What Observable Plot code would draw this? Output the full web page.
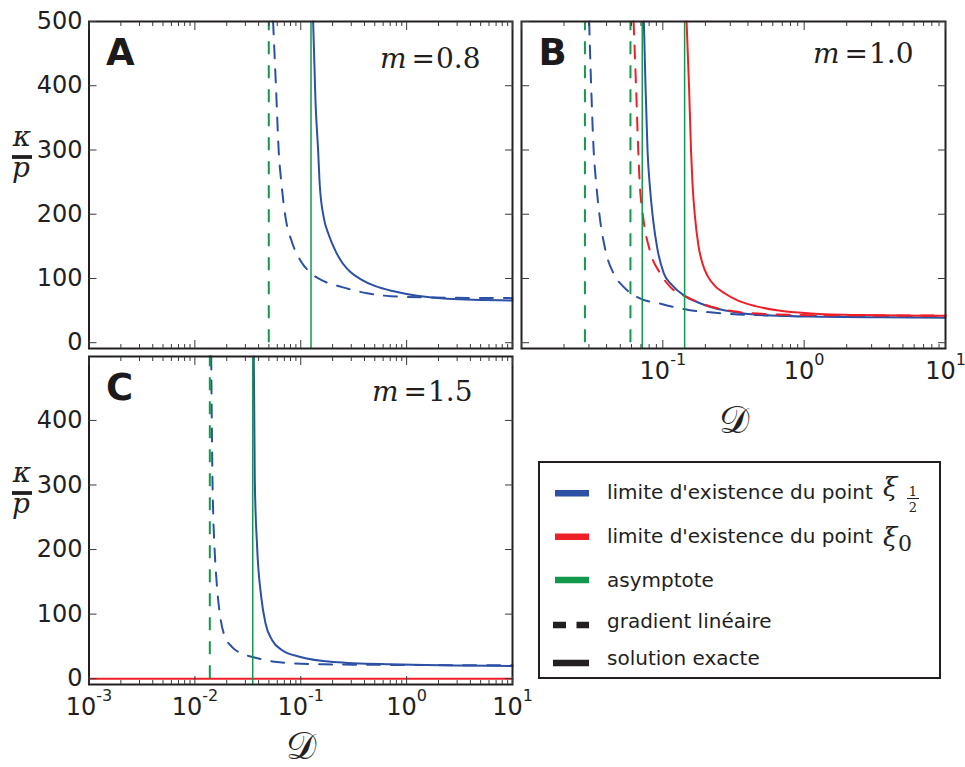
<!DOCTYPE html>
<html><head><meta charset="utf-8">
<script src="https://cdn.jsdelivr.net/npm/d3@7"></script>
<script src="https://cdn.jsdelivr.net/npm/@observablehq/plot@0.6"></script>
<style>
html,body{margin:0;padding:0;background:#fff;}
#chart{position:relative;width:965px;height:767px;overflow:hidden;font-family:"DejaVu Sans",sans-serif;}
</style></head>
<body><div id="chart"></div>
<script>
// ---------------- DATA ----------------
const xMajorAC = [0.001, 0.01, 0.1, 1, 10];
const xMajorB = [0.01, 0.1, 1, 10];
const xLabelsB = [0.1, 1, 10];
const xLabelsC = [0.001, 0.01, 0.1, 1, 10];
const yTicksAB = [0, 100, 200, 300, 400, 500];
const yTicksC = [0, 100, 200, 300, 400];
const mLabels = ["m=0.8", "m=1.0", "m=1.5"];
const panelLetters = ["A", "B", "C"];

// Panel A (m = 0.8)
const aAsymDashed = [0.0499];
const aAsymSolid = [0.125];
const aBlueSolidD = [0.1309, 0.1377, 0.1459, 0.1510, 0.1648, 0.1838, 0.2127, 0.2475, 0.2946, 0.3662, 0.507, 0.755, 1.256, 2.41, 10];
const aBlueSolidV = [500, 377, 299, 247, 195, 168, 143, 124, 110, 99, 88, 80, 73, 68.4, 65.8];
const aBlueDashedD = [0.0548, 0.0583, 0.0619, 0.0658, 0.0718, 0.0817, 0.0993, 0.1253, 0.1592, 0.246, 0.424, 0.703, 1.80, 10];
const aBlueDashedV = [500, 400, 299, 247, 195, 159, 128, 108, 97, 86.5, 77, 72.5, 70.4, 69.4];

// Panel B (m = 1.0)
const bAsymDashed = [0.0281, 0.059];
const bAsymSolid = [0.0715, 0.1426];
const bBlueDashedD = [0.0301, 0.0311, 0.0324, 0.0338, 0.0358, 0.0393, 0.0450, 0.0530, 0.0659, 0.0964, 0.149, 0.256, 0.441, 0.944, 2.95, 10];
const bBlueDashedV = [500, 400, 300, 247, 195, 143.5, 107, 86.5, 71, 60.6, 51.3, 46, 43, 42, 40.5, 39.8];
const bBlueSolidD = [0.0734, 0.0754, 0.0779, 0.0812, 0.0855, 0.0917, 0.1016, 0.1171, 0.1424, 0.1761, 0.2176, 0.2778, 0.3743, 0.5783, 1.306, 3.473, 10];
const bBlueSolidV = [500, 400, 300, 240, 190, 145, 108, 89, 73, 63, 55.5, 50, 45.5, 42.5, 40.5, 39.5, 38.9];
const bRedDashedD = [0.0621, 0.0646, 0.0670, 0.0687, 0.0726, 0.0809, 0.0964, 0.1132, 0.149, 0.206, 0.316, 0.548, 1.306, 3.473, 10];
const bRedDashedV = [500, 400, 299, 247, 195, 143.5, 107, 86.5, 71, 58, 49, 44.5, 42.8, 42.5, 42.4];
const bRedSolidD = [0.1472, 0.1532, 0.1583, 0.1622, 0.1690, 0.1790, 0.1910, 0.2072, 0.2322, 0.2733, 0.3378, 0.4531, 0.6590, 1.110, 2.507, 10];
const bRedSolidV = [500, 400, 299, 247, 195, 150, 123, 104, 89, 77, 66, 57, 50, 45.5, 43, 41.9];

// Panel C (m = 1.5)
const cAsymDashed = [0.01384];
const cAsymSolid = [0.0352];
const cBlueSolidD = [0.0360, 0.0368, 0.0387, 0.0423, 0.0465, 0.0537, 0.0667, 0.0993, 0.205, 0.703, 10];
const cBlueSolidV = [499, 308, 204.6, 127, 85.5, 59.5, 44, 33.6, 25.8, 22.2, 19.6];
const cBlueDashedD = [0.01426, 0.01466, 0.01489, 0.01531, 0.0160, 0.01718, 0.01875, 0.02249, 0.027, 0.0352, 0.0598, 0.165, 10];
const cBlueDashedV = [499, 308, 256.5, 204.6, 152.8, 101, 70, 49, 39.8, 33.6, 25.8, 22.2, 20.7];
const cRedSolidD = [0.001, 10];
const cRedSolidV = [0, 0];

const legendLabels = ["limite d'existence du point", "limite d'existence du point", "asymptote", "gradient linéaire", "solution exacte"];

// ---------------- STYLE ----------------
const BLUE = "#2c50a4", RED = "#ee2027", GREEN = "#12994b", INK = "#231f20", TICK = "#3a3a3a";
const DASH = "13,11";
const ns = "http://www.w3.org/2000/svg";
const chart = document.getElementById("chart");

function pts(D, V) { return D.map((d, i) => ({D: d, v: V[i]})); }
function minors(k0, k1) {
  const out = [];
  for (let k = k0; k < k1; k++) for (let m = 2; m <= 9; m++) out.push(+(m * Math.pow(10, k)).toPrecision(3));
  return out;
}
function fmtPow(d) { return "10^" + Math.round(Math.log10(d)); }

function panel(cfg) {
  const marks = [];
  for (const c of cfg.curves) {
    const o = {x: "D", y: "v", stroke: c.color, strokeWidth: 2, curve: "monotone-x"};
    if (c.dashed) o.strokeDasharray = DASH;
    marks.push(Plot.line(pts(c.D, c.V), o));
  }
  marks.push(Plot.ruleX(cfg.asymDashed, {x: d => d, y1: 0, y2: 500, stroke: GREEN, strokeWidth: 2, strokeDasharray: DASH}));
  marks.push(Plot.ruleX(cfg.asymSolid, {x: d => d, stroke: GREEN, strokeWidth: 1.5}));
  marks.push(Plot.frame({stroke: INK, strokeWidth: 2}));
  const k0 = Math.round(Math.log10(cfg.xDomain[0])), k1 = Math.round(Math.log10(cfg.xDomain[1]));
  const minor = minors(k0, k1);
  for (const anchor of ["bottom", "top"]) {
    marks.push(Plot.axisX(cfg.xMajor, {anchor, tickSize: -8, fill: "none", stroke: TICK, label: null}));
    marks.push(Plot.axisX(minor, {anchor, tickSize: -4, fill: "none", stroke: TICK, label: null}));
  }
  for (const anchor of ["left", "right"]) {
    marks.push(Plot.axisY(cfg.yTicks, {anchor, tickSize: -8, fill: "none", stroke: TICK, label: null}));
  }
  if (cfg.xLabels) marks.push(Plot.axisX(cfg.xLabels, {anchor: "bottom", tickSize: 0, tickPadding: 13.5, fill: INK, fontSize: 24, tickFormat: fmtPow, label: null}));
  if (cfg.yLabels) marks.push(Plot.axisY(cfg.yTicks, {anchor: "left", tickSize: 0, tickPadding: 6.5, fill: INK, fontSize: 24, label: null}));
  marks.push(Plot.text([cfg.letter], {text: d => d, frameAnchor: "top-left", dx: 17, dy: 43, textAnchor: "start", lineAnchor: "bottom", fontSize: 37, fontWeight: "bold", fill: "#1c1a1b", fontFamily: "DejaVu Sans"}));
  marks.push(Plot.text([cfg.mText], {text: d => d, frameAnchor: "top-right", dx: cfg.mdx, dy: cfg.mdy, textAnchor: "end", lineAnchor: "bottom", fontSize: 28, fill: INK, fontFamily: "DejaVu Serif"}));
  if (cfg.xTitleDy) marks.push(Plot.text(["\u{1D49F}"], {text: d => d, frameAnchor: "bottom", dy: cfg.xTitleDy, textAnchor: "middle", lineAnchor: "bottom", fontSize: 38, fill: INK, fontFamily: "DejaVu Serif"}));

  const [mt, mr, mb, ml] = cfg.margins;
  const svg = Plot.plot({
    width: cfg.width, height: cfg.height,
    marginTop: mt, marginRight: mr, marginBottom: mb, marginLeft: ml,
    x: {type: "log", domain: cfg.xDomain},
    y: {domain: cfg.yDomain},
    style: {background: "none", overflow: "visible", fontFamily: "DejaVu Sans", color: INK},
    marks
  });
  svg.style.position = "absolute";
  svg.style.left = cfg.left + "px";
  svg.style.top = cfg.top + "px";
  // superscript exponents on x tick labels
  svg.querySelectorAll('g[aria-label="x-axis tick label"] text').forEach(t => {
    const s = t.textContent;
    if (s.startsWith("10^")) {
      t.textContent = "10";
      const ts = document.createElementNS(ns, "tspan");
      ts.setAttribute("dy", "-14");
      ts.setAttribute("font-size", "16");
      ts.textContent = s.slice(3);
      t.appendChild(ts);
    }
  });
  // italic m in the m = ... label
  svg.querySelectorAll("text").forEach(t => {
    const s = t.textContent;
    if (/^m=/.test(s)) {
      t.textContent = "";
      const a = document.createElementNS(ns, "tspan"); a.setAttribute("font-style", "italic"); a.textContent = "m";
      const b = document.createElementNS(ns, "tspan"); b.setAttribute("dx", "5"); b.textContent = "=";
      const c = document.createElementNS(ns, "tspan"); c.setAttribute("dx", "1"); c.textContent = s.slice(2);
      t.append(a, b, c);
    }
  });
  chart.appendChild(svg);
}

// Panel A
panel({
  left: 0, top: 0, width: 520, height: 352, margins: [21, 8, 4, 88.5],
  xDomain: [0.001, 10], yDomain: [-9, 500], yTicks: yTicksAB, xMajor: xMajorAC,
  xLabels: null, yLabels: true, letter: panelLetters[0], mText: mLabels[0], mdx: -32, mdy: 46,
  asymDashed: aAsymDashed, asymSolid: aAsymSolid,
  curves: [
    {D: aBlueSolidD, V: aBlueSolidV, color: BLUE},
    {D: aBlueDashedD, V: aBlueDashedV, color: BLUE, dashed: true}
  ]
});
// Panel B
panel({
  left: 440, top: 0, width: 525, height: 440, margins: [21, 20, 92, 81],
  xDomain: [0.01, 10], yDomain: [-9, 500], yTicks: yTicksAB, xMajor: xMajorB,
  xLabels: xLabelsB, yLabels: false, letter: panelLetters[1], mText: mLabels[1], mdx: -32, mdy: 41,
  xTitleDy: 84,
  asymDashed: bAsymDashed, asymSolid: bAsymSolid,
  curves: [
    {D: bBlueSolidD, V: bBlueSolidV, color: BLUE},
    {D: bBlueDashedD, V: bBlueDashedV, color: BLUE, dashed: true},
    {D: bRedSolidD, V: bRedSolidV, color: RED},
    {D: bRedDashedD, V: bRedDashedV, color: RED, dashed: true}
  ]
});
// Panel C
panel({
  left: 0, top: 352, width: 520, height: 415, margins: [4, 8, 83, 88.5],
  xDomain: [0.001, 10], yDomain: [-9, 499], yTicks: yTicksC, xMajor: xMajorAC,
  xLabels: xLabelsC, yLabels: true, letter: panelLetters[2], mText: mLabels[2], mdx: -40, mdy: 44,
  xTitleDy: 74,
  asymDashed: cAsymDashed, asymSolid: cAsymSolid,
  curves: [
    {D: cBlueSolidD, V: cBlueSolidV, color: BLUE},
    {D: cBlueDashedD, V: cBlueDashedV, color: BLUE, dashed: true},
    {D: cRedSolidD, V: cRedSolidV, color: RED}
  ]
});

// ---------------- overlay: y titles + legend ----------------
const ov = d3.select(chart).append("svg")
  .attr("width", 965).attr("height", 767)
  .style("position", "absolute").style("left", "0px").style("top", "0px").style("overflow", "visible");

function kappaP(cx, barY) {
  const g = ov.append("g").attr("fill", INK).attr("font-family", "DejaVu Serif").attr("font-style", "italic").attr("font-size", 28).attr("text-anchor", "middle");
  g.append("text").attr("x", cx).attr("y", barY - 11.5).text("κ");
  g.append("line").attr("x1", cx - 10).attr("x2", cx + 10).attr("y1", barY).attr("y2", barY).attr("stroke", INK).attr("stroke-width", 3.8);
  g.append("text").attr("x", cx - 1).attr("y", barY + 19.5).text("p");
}
kappaP(22, 157);
kappaP(22, 493);

// legend
const lg = ov.append("g");
lg.append("rect").attr("x", 539).attr("y", 462).attr("width", 401).attr("height", 216).attr("fill", "white").attr("stroke", INK).attr("stroke-width", 2);
const rows = [
  {y: 493.3, base: 499, color: BLUE, x1: 555},
  {y: 536.7, base: 543, color: RED, x1: 555},
  {y: 580, base: 587, color: GREEN, x1: 555},
  {y: 625, base: 627.5, color: INK, x1: 553, dash: "13,10.5"},
  {y: 663, base: 665, color: INK, x1: 553}
];
rows.forEach((r, i) => {
  const ln = lg.append("line").attr("x1", r.x1).attr("x2", 589).attr("y1", r.y).attr("y2", r.y).attr("stroke", r.color).attr("stroke-width", 6.5);
  if (r.dash) ln.attr("stroke-dasharray", r.dash);
  lg.append("text").attr("x", 607).attr("y", r.base).attr("font-family", "DejaVu Sans").attr("font-size", 20).attr("fill", INK).text(legendLabels[i]);
});
// xi symbols
const xi = lg.append("g").attr("fill", INK).attr("font-family", "DejaVu Serif");
xi.append("text").attr("x", 883).attr("y", 496).attr("font-size", 26).attr("font-style", "italic").text("ξ");
xi.append("text").attr("x", 913).attr("y", 496).attr("font-size", 13).attr("text-anchor", "middle").text("1");
xi.append("line").attr("x1", 907).attr("x2", 919).attr("y1", 498.5).attr("y2", 498.5).attr("stroke", INK).attr("stroke-width", 1);
xi.append("text").attr("x", 913).attr("y", 512).attr("font-size", 13).attr("text-anchor", "middle").text("2");
xi.append("text").attr("x", 883).attr("y", 546).attr("font-size", 26).attr("font-style", "italic").text("ξ");
xi.append("text").attr("x", 898).attr("y", 551).attr("font-size", 22).text("0");
</script>
</body></html>
